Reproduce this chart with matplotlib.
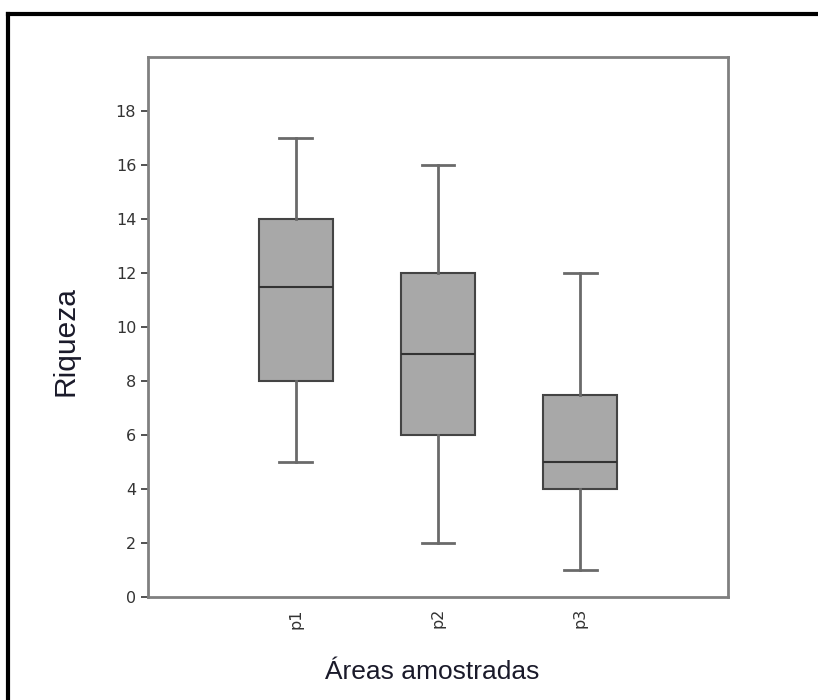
import matplotlib.pyplot as plt
from matplotlib.lines import Line2D

# dados
areas = ['p1', 'p2', 'p3']
wlo = [5, 2, 1]
q1 = [8, 6, 4]
med = [11.5, 9, 5]
q3 = [14, 12, 7.5]
whi = [17, 16, 12]

stats = []
for i in range(len(areas)):
    stats.append({'label': areas[i], 'whislo': wlo[i], 'q1': q1[i], 'med': med[i],
                  'q3': q3[i], 'whishi': whi[i], 'fliers': []})

fig = plt.figure(figsize=(8.18, 7), dpi=100)
ax = fig.add_axes([148/818, 1-597/700, 580/818, 540/700])

ax.bxp(stats, positions=[1, 2, 3], widths=0.52, capwidths=0.23, patch_artist=True,
       showfliers=False,
       boxprops=dict(facecolor='#a8a8a8', edgecolor='#444444', linewidth=1.5),
       medianprops=dict(color='#333333', linewidth=1.5),
       whiskerprops=dict(color='#6a6a6a', linewidth=2),
       capprops=dict(color='#6a6a6a', linewidth=2))

ax.set_xlim(-0.04, 4.04)
ax.set_ylim(0, 20)
ax.set_yticks(range(0, 19, 2))
ax.set_xticks([1, 2, 3])
ax.set_xticklabels(areas, rotation=90)
ax.tick_params(colors='#333333', labelsize=11.5, width=1.2, length=5)
ax.tick_params(axis='x', length=0, pad=8)
for s in ax.spines.values():
    s.set_color('#808080')
    s.set_linewidth(2)

ax.set_ylabel('Riqueza', fontsize=21.5, color='#1a1a2a', family='Liberation Sans', va='center')
ax.set_xlabel('Áreas amostradas', fontsize=19, color='#1a1a2a', family='Liberation Sans', va='center')
ax.yaxis.set_label_coords(-0.143, 0.474)
ax.xaxis.set_label_coords(0.49, -0.139)

# moldura externa
fig.add_artist(Line2D([8/818, 8/818], [0, 1-14/700], transform=fig.transFigure, color='black', lw=3))
fig.add_artist(Line2D([8/818, 1], [1-14/700, 1-14/700], transform=fig.transFigure, color='black', lw=3))

plt.savefig('out.png')
